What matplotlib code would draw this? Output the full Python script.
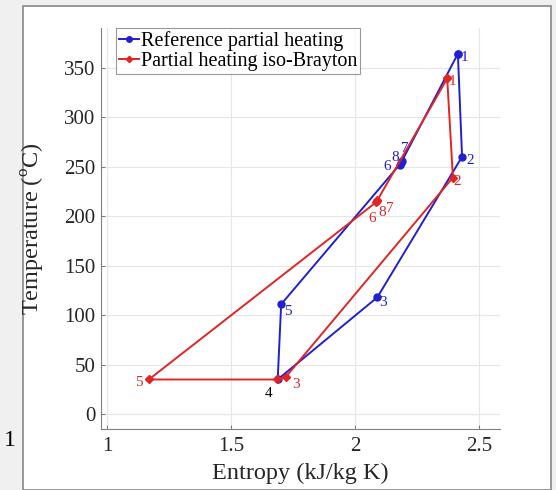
import matplotlib
matplotlib.use("Agg")
import matplotlib.pyplot as plt
from matplotlib.patches import Rectangle

plt.rcParams["font.family"] = ["Liberation Serif", "DejaVu Serif"]
plt.rcParams["mathtext.fontset"] = "custom"
plt.rcParams["mathtext.rm"] = "Liberation Serif"

# cycle states 1..8, closed back to state 1
ref_labels = ["1", "2", "3", "4", "5", "6", "7", "8"]
ref_entropy = [2.415, 2.432, 2.090, 1.688, 1.702, 2.180, 2.190, 2.186]
ref_temp = [364, 260, 118, 35, 111, 252, 256, 254]

iso_labels = ["1", "2", "3", "4", "5", "6", "7", "8"]
iso_entropy = [2.372, 2.395, 1.722, 1.686, 1.168, 2.085, 2.090, 2.088]
iso_temp = [339, 239, 38, 35, 35, 214, 216, 215]

blue = "#2020d0"
red = "#e02525"

fig = plt.figure(figsize=(5.56, 4.9), dpi=100)
fig.patch.set_facecolor("#f0f0f0")
W, H = 556, 490
fig.patches.append(Rectangle((23 / W, 0), (551 - 23) / W, (490 - 6) / H,
                             transform=fig.transFigure, facecolor="white",
                             edgecolor="#888888", linewidth=1.2, zorder=-5))
fig.text(10 / W, 1 - 440 / H, "1", fontsize=17, ha="center", va="center")

ax = fig.add_axes([101 / W, 1 - 429 / H, (500 - 101) / W, (429 - 28) / H])
ax.set_zorder(2)
ax.set_facecolor("white")

ax.plot(ref_entropy + ref_entropy[:1], ref_temp + ref_temp[:1], "-o",
        color=blue, lw=1.4, ms=5, label="Reference partial heating", zorder=3)
ax.plot(iso_entropy + iso_entropy[:1], iso_temp + iso_temp[:1], "-D",
        color=red, lw=1.4, ms=4, label="Partial heating iso-Brayton", zorder=4)

# state numbers next to the points (x, y offsets in points)
ref_offsets = {"1": (5, -3), "2": (6, -3), "3": (4, -4), "5": (5, -5),
               "6": (-9, -1), "7": (2, 9), "8": (-4, 4)}
iso_offsets = {"1": (4, -2), "2": (3, -3), "3": (7, -6), "5": (-7, -2),
               "6": (-3, -12), "7": (9, -6), "8": (4, -8)}
for lab, s, t in zip(ref_labels, ref_entropy, ref_temp):
    if lab in ref_offsets:
        ax.annotate(lab, (s, t), xytext=ref_offsets[lab], textcoords="offset points",
                    color=blue, fontsize=11, ha="center", va="center")
for lab, s, t in zip(iso_labels, iso_entropy, iso_temp):
    if lab in iso_offsets:
        ax.annotate(lab, (s, t), xytext=iso_offsets[lab], textcoords="offset points",
                    color=red, fontsize=11, ha="center", va="center")
ax.annotate("4", (iso_entropy[3], iso_temp[3]), xytext=(-6, -10),
            textcoords="offset points", color="black", fontsize=11,
            ha="center", va="center")

ax.set_xlim(0.975, 2.585)
ax.set_ylim(-15, 390)
ax.set_xticks([1, 1.5, 2, 2.5])
ax.set_xticklabels(["1", "1.5", "2", "2.5"])
ax.set_yticks(range(0, 351, 50))
ax.grid(True, color="#e6e6e6", lw=0.8)
ax.set_axisbelow(True)
for side in ["top", "right"]:
    ax.spines[side].set_visible(False)
for side in ["left", "bottom"]:
    ax.spines[side].set_color("#808080")
ax.tick_params(labelsize=15, colors="#808080", labelcolor="#262626",
               direction="in", length=3)
ax.tick_params(axis="x", pad=6)
ax.tick_params(axis="y", pad=4)
ax.set_xlabel("Entropy (kJ/kg K)", fontsize=17.5, color="#262626")
ax.set_ylabel("Temperature ($^{\\rm o}$C)", fontsize=17.5, color="#262626")
ax.xaxis.set_label_coords(0.5, -0.085)
ax.yaxis.set_label_coords(-0.135, 0.5)

leg = ax.legend(loc="upper left", bbox_to_anchor=(0.037, 1.0), fontsize=14.5,
                frameon=True, fancybox=False, borderpad=0.15, labelspacing=0.05,
                handlelength=1.0, handletextpad=0.1, borderaxespad=0.0,
                markerscale=0.8)
leg.get_frame().set_edgecolor("#808080")
leg.get_frame().set_linewidth(0.8)

fig.savefig("out.png", dpi=100, facecolor=fig.get_facecolor())
